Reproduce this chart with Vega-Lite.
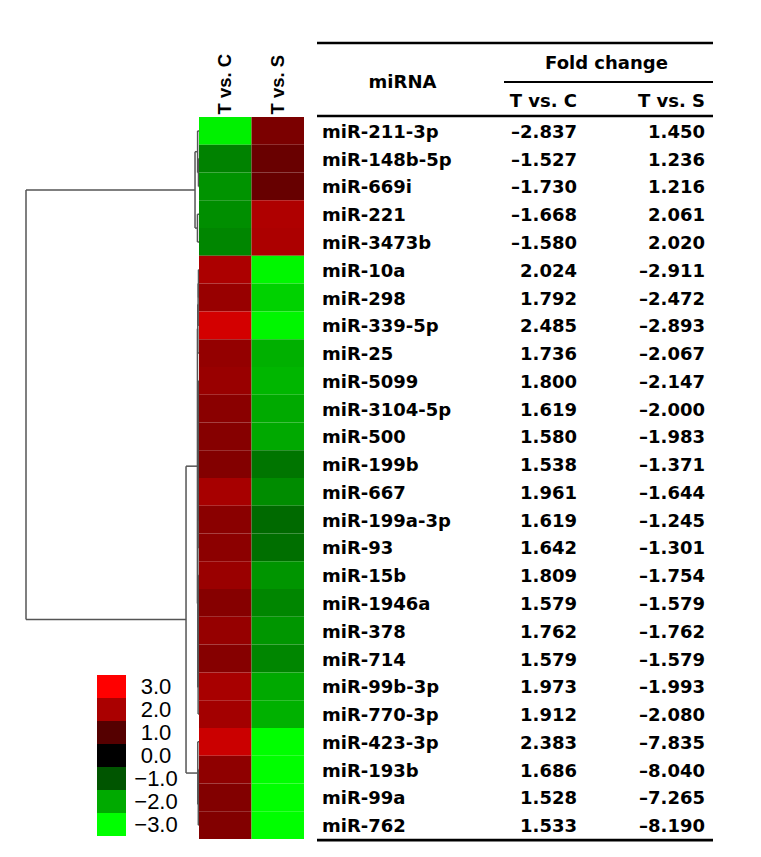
{
  "$schema": "https://vega.github.io/schema/vega-lite/v6.json",
  "background": "white",
  "padding": {"left": 25, "top": 41, "right": 0, "bottom": 0},
  "bounds": "flush",
  "spacing": 0,
  "config": {"view": {"stroke": null}},
  "resolve": {"scale": {"color": "independent"}, "legend": {"color": "independent"}},
  "datasets": {
    "mirna": [
      {"rank": 1, "miRNA": "miR-211-3p", "TvsC": -2.837, "TvsS": 1.450},
      {"rank": 2, "miRNA": "miR-148b-5p", "TvsC": -1.527, "TvsS": 1.236},
      {"rank": 3, "miRNA": "miR-669i", "TvsC": -1.730, "TvsS": 1.216},
      {"rank": 4, "miRNA": "miR-221", "TvsC": -1.668, "TvsS": 2.061},
      {"rank": 5, "miRNA": "miR-3473b", "TvsC": -1.580, "TvsS": 2.020},
      {"rank": 6, "miRNA": "miR-10a", "TvsC": 2.024, "TvsS": -2.911},
      {"rank": 7, "miRNA": "miR-298", "TvsC": 1.792, "TvsS": -2.472},
      {"rank": 8, "miRNA": "miR-339-5p", "TvsC": 2.485, "TvsS": -2.893},
      {"rank": 9, "miRNA": "miR-25", "TvsC": 1.736, "TvsS": -2.067},
      {"rank": 10, "miRNA": "miR-5099", "TvsC": 1.800, "TvsS": -2.147},
      {"rank": 11, "miRNA": "miR-3104-5p", "TvsC": 1.619, "TvsS": -2.000},
      {"rank": 12, "miRNA": "miR-500", "TvsC": 1.580, "TvsS": -1.983},
      {"rank": 13, "miRNA": "miR-199b", "TvsC": 1.538, "TvsS": -1.371},
      {"rank": 14, "miRNA": "miR-667", "TvsC": 1.961, "TvsS": -1.644},
      {"rank": 15, "miRNA": "miR-199a-3p", "TvsC": 1.619, "TvsS": -1.245},
      {"rank": 16, "miRNA": "miR-93", "TvsC": 1.642, "TvsS": -1.301},
      {"rank": 17, "miRNA": "miR-15b", "TvsC": 1.809, "TvsS": -1.754},
      {"rank": 18, "miRNA": "miR-1946a", "TvsC": 1.579, "TvsS": -1.579},
      {"rank": 19, "miRNA": "miR-378", "TvsC": 1.762, "TvsS": -1.762},
      {"rank": 20, "miRNA": "miR-714", "TvsC": 1.579, "TvsS": -1.579},
      {"rank": 21, "miRNA": "miR-99b-3p", "TvsC": 1.973, "TvsS": -1.993},
      {"rank": 22, "miRNA": "miR-770-3p", "TvsC": 1.912, "TvsS": -2.080},
      {"rank": 23, "miRNA": "miR-423-3p", "TvsC": 2.383, "TvsS": -7.835},
      {"rank": 24, "miRNA": "miR-193b", "TvsC": 1.686, "TvsS": -8.040},
      {"rank": 25, "miRNA": "miR-99a", "TvsC": 1.528, "TvsS": -7.265},
      {"rank": 26, "miRNA": "miR-762", "TvsC": 1.533, "TvsS": -8.190}
    ],
    "nodes": [
      {"node": "n1", "h": 0.03, "p1": 2, "h1": 0, "p2": 3, "h2": 0},
      {"node": "n2", "h": 0.08, "p1": 1, "h1": 0, "p2": 2.5, "h2": 0.03},
      {"node": "n3", "h": 0.09, "p1": 4, "h1": 0, "p2": 5, "h2": 0},
      {"node": "A", "h": 0.23, "p1": 1.75, "h1": 0.08, "p2": 4.5, "h2": 0.09},
      {"node": "m1", "h": 0.03, "p1": 6, "h1": 0, "p2": 7, "h2": 0},
      {"node": "m2", "h": 0.05, "p1": 6.5, "h1": 0.03, "p2": 8, "h2": 0},
      {"node": "m3", "h": 0.07, "p1": 7.25, "h1": 0.05, "p2": 9, "h2": 0},
      {"node": "k1", "h": 0.02, "p1": 10, "h1": 0, "p2": 11, "h2": 0},
      {"node": "k2", "h": 0.03, "p1": 10.5, "h1": 0.02, "p2": 12, "h2": 0},
      {"node": "k3", "h": 0.035, "p1": 11.25, "h1": 0.03, "p2": 13, "h2": 0},
      {"node": "k4", "h": 0.04, "p1": 12.125, "h1": 0.035, "p2": 14, "h2": 0},
      {"node": "k5", "h": 0.045, "p1": 13.0625, "h1": 0.04, "p2": 15, "h2": 0},
      {"node": "k6", "h": 0.05, "p1": 14.03125, "h1": 0.045, "p2": 16, "h2": 0},
      {"node": "j1", "h": 0.02, "p1": 17, "h1": 0, "p2": 18, "h2": 0},
      {"node": "j2", "h": 0.03, "p1": 17.5, "h1": 0.02, "p2": 19, "h2": 0},
      {"node": "j3", "h": 0.035, "p1": 18.25, "h1": 0.03, "p2": 20, "h2": 0},
      {"node": "j4", "h": 0.04, "p1": 19.125, "h1": 0.035, "p2": 21, "h2": 0},
      {"node": "j5", "h": 0.05, "p1": 20.0625, "h1": 0.04, "p2": 22, "h2": 0},
      {"node": "B1b", "h": 0.07, "p1": 15.0156, "h1": 0.05, "p2": 21.0313, "h2": 0.05},
      {"node": "B1", "h": 0.09, "p1": 8.125, "h1": 0.07, "p2": 18.0234, "h2": 0.07},
      {"node": "q1", "h": 0.02, "p1": 24, "h1": 0, "p2": 25, "h2": 0},
      {"node": "q2", "h": 0.04, "p1": 24.5, "h1": 0.02, "p2": 26, "h2": 0},
      {"node": "B2", "h": 0.07, "p1": 23, "h1": 0, "p2": 25.25, "h2": 0.04},
      {"node": "B", "h": 0.75, "p1": 13.0742, "h1": 0.09, "p2": 24.125, "h2": 0.07},
      {"node": "root", "h": 10, "p1": 3.125, "h1": 0.23, "p2": 18.5996, "h2": 0.75}
    ]
  },
  "hconcat": [
    {
      "width": 173,
      "height": 722,
      "data": {"name": "nodes"},
      "layer": [
        {
          "mark": {"type": "rule", "color": "#555555", "strokeWidth": 1.5},
          "encoding": {
            "x": {"field": "h", "type": "quantitative", "scale": {"domain": [0, 10], "reverse": true, "nice": false, "zero": false}, "axis": null},
            "y": {"field": "p1", "type": "quantitative", "scale": {"domain": [0.5, 26.5], "reverse": true, "nice": false, "zero": false}, "axis": null},
            "y2": {"field": "p2"}
          }
        },
        {
          "mark": {"type": "rule", "color": "#555555", "strokeWidth": 1.5},
          "encoding": {
            "x": {"field": "h", "type": "quantitative"},
            "x2": {"field": "h1"},
            "y": {"field": "p1", "type": "quantitative"}
          }
        },
        {
          "mark": {"type": "rule", "color": "#555555", "strokeWidth": 1.5},
          "encoding": {
            "x": {"field": "h", "type": "quantitative"},
            "x2": {"field": "h2"},
            "y": {"field": "p2", "type": "quantitative"}
          }
        }
      ]
    },
    {
      "width": 118,
      "height": 722,
      "data": {"name": "mirna"},
      "transform": [{"fold": ["TvsC", "TvsS"], "as": ["comparison", "fc"]}],
      "mark": {"type": "rect"},
      "encoding": {
        "x": {
          "field": "comparison", "type": "nominal",
          "scale": {"domain": ["TvsC", "TvsS"], "paddingInner": 0, "paddingOuter": 0.12381, "align": 0},
          "axis": {"orient": "top", "title": null, "labelAngle": -90, "labelExpr": "datum.value === 'TvsC' ? 'T vs. C' : 'T vs. S'", "ticks": false, "tickSize": 0, "domain": false, "grid": false, "labelPadding": 3, "labelFont": "Liberation Sans", "labelFontWeight": "bold", "labelFontSize": 18.5, "labelColor": "black"}
        },
        "y": {"field": "miRNA", "type": "nominal", "sort": {"field": "rank", "op": "min", "order": "ascending"}, "scale": {"paddingInner": 0, "paddingOuter": 0}, "axis": null},
        "color": {
          "field": "fc", "type": "quantitative",
          "scale": {"domain": [-3, 0, 3], "range": ["#00ff00", "#000000", "#ff0000"], "clamp": true, "interpolate": "rgb"},
          "legend": {"type": "symbol", "values": [3, 2, 1, 0, -1, -2, -3], "format": ".1f", "orient": "none", "legendX": -99, "legendY": 558, "title": null, "symbolType": "M-1.26,-1H1.26V1H-1.26Z", "symbolSize": 529, "symbolStrokeWidth": 0, "symbolOpacity": 1, "rowPadding": 0, "padding": 0, "labelFont": "Liberation Sans", "labelFontSize": 22, "labelColor": "black", "labelAlign": "center", "labelOffset": 33}
        }
      }
    },
    {
      "width": 187,
      "height": 722,
      "layer": [
        {
          "data": {"name": "mirna"},
          "mark": {"type": "text", "align": "left", "baseline": "middle", "dx": 5, "dy": 2, "font": "DejaVu Sans", "fontWeight": "bold", "fontSize": 18, "color": "black"},
          "encoding": {
            "x": {"datum": "miRNA", "type": "nominal", "bandPosition": 0, "scale": {"type": "band", "paddingInner": 0, "paddingOuter": 0}, "axis": null},
            "y": {"field": "rank", "type": "quantitative", "scale": {"domain": [0.5, 26.5], "reverse": true, "nice": false, "zero": false}, "axis": null},
            "text": {"field": "miRNA"}
          }
        },
        {
          "data": {"values": [{"label": "miRNA"}]},
          "mark": {"type": "text", "baseline": "alphabetic", "dx": -8, "font": "DejaVu Sans", "fontWeight": "bold", "fontSize": 18, "color": "black"},
          "encoding": {"y": {"datum": -0.555, "type": "quantitative"}, "text": {"field": "label"}}
        },
        {
          "data": {"values": [{"rule": "top"}]},
          "mark": {"type": "rule", "color": "black", "strokeWidth": 2.7},
          "encoding": {"y": {"datum": -2.165, "type": "quantitative"}}
        },
        {
          "data": {"values": [{"rule": "header"}]},
          "mark": {"type": "rule", "color": "black", "strokeWidth": 2.7},
          "encoding": {"y": {"datum": 0.464, "type": "quantitative"}}
        },
        {
          "data": {"values": [{"rule": "bottom"}]},
          "mark": {"type": "rule", "color": "black", "strokeWidth": 2.7},
          "encoding": {"y": {"datum": 26.54, "type": "quantitative"}}
        }
      ]
    },
    {
      "width": 209,
      "height": 722,
      "layer": [
        {
          "data": {"name": "mirna"},
          "transform": [
            {"fold": ["TvsC", "TvsS"], "as": ["comparison", "fc"]},
            {"calculate": "replace(format(datum.fc, '.3f'), '\u2212', '\u2013')", "as": "label"}
          ],
          "mark": {"type": "text", "align": "right", "baseline": "middle", "dx": -8, "dy": 2, "font": "DejaVu Sans", "fontWeight": "bold", "fontSize": 18, "color": "black"},
          "encoding": {
            "x": {"field": "comparison", "type": "nominal", "bandPosition": 1, "scale": {"type": "band", "domain": ["TvsC", "TvsS"], "paddingInner": 0.367, "paddingOuter": 0}, "axis": null},
            "y": {"field": "rank", "type": "quantitative", "scale": {"domain": [0.5, 26.5], "reverse": true, "nice": false, "zero": false}, "axis": null},
            "text": {"field": "label"}
          }
        },
        {
          "data": {"values": [{"comparison": "TvsC", "label": "T vs. C"}, {"comparison": "TvsS", "label": "T vs. S"}]},
          "mark": {"type": "text", "align": "right", "baseline": "alphabetic", "dx": -8, "font": "DejaVu Sans", "fontWeight": "bold", "fontSize": 18, "color": "black"},
          "encoding": {
            "x": {"field": "comparison", "type": "nominal", "bandPosition": 1},
            "y": {"datum": 0.14, "type": "quantitative"},
            "text": {"field": "label"}
          }
        },
        {
          "data": {"values": [{"label": "Fold change"}]},
          "mark": {"type": "text", "baseline": "alphabetic", "dx": -2, "font": "DejaVu Sans", "fontWeight": "bold", "fontSize": 18, "color": "black"},
          "encoding": {"y": {"datum": -1.24, "type": "quantitative"}, "text": {"field": "label"}}
        },
        {
          "data": {"values": [{"rule": "top"}]},
          "mark": {"type": "rule", "color": "black", "strokeWidth": 2.7},
          "encoding": {"y": {"datum": -2.165, "type": "quantitative"}}
        },
        {
          "data": {"values": [{"rule": "fold"}]},
          "mark": {"type": "rule", "color": "black", "strokeWidth": 2},
          "encoding": {"y": {"datum": -0.76, "type": "quantitative"}}
        },
        {
          "data": {"values": [{"rule": "header"}]},
          "mark": {"type": "rule", "color": "black", "strokeWidth": 2.7},
          "encoding": {"y": {"datum": 0.464, "type": "quantitative"}}
        },
        {
          "data": {"values": [{"rule": "bottom"}]},
          "mark": {"type": "rule", "color": "black", "strokeWidth": 2.7},
          "encoding": {"y": {"datum": 26.54, "type": "quantitative"}}
        }
      ]
    }
  ]
}
